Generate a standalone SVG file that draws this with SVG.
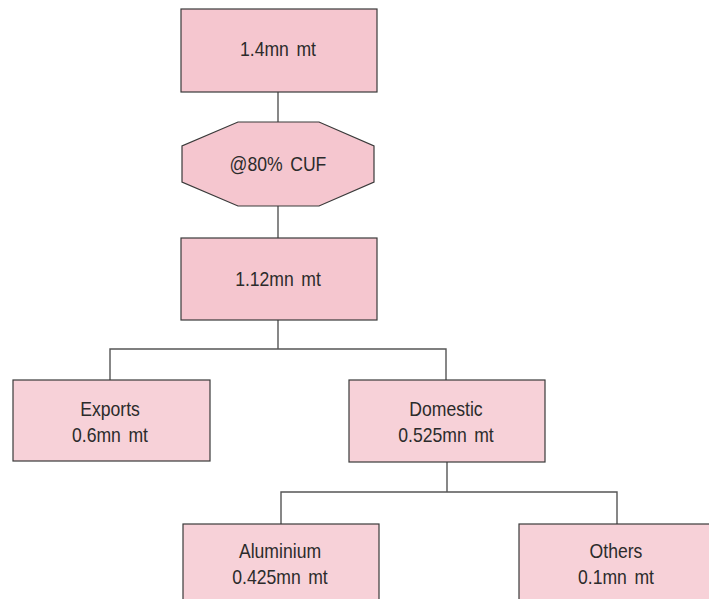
<svg xmlns="http://www.w3.org/2000/svg" width="709" height="599" viewBox="0 0 709 599">
  <style>
    .box { stroke: #3a3a3a; stroke-width: 1.2; }
    .top { fill: #f5c6cf; }
    .low { fill: #f7d1d8; }
    .lbl { font-family: "Liberation Sans", Arial, sans-serif; font-size: 20px; fill: #2b2b2b; text-anchor: middle; word-spacing: 3px; }
    .wire { stroke: #555; stroke-width: 1.4; fill: none; }
  </style>
  <rect width="709" height="599" fill="#ffffff"/>

  <!-- connectors -->
  <g id="connectors">
    <line class="wire" x1="278" y1="92" x2="278" y2="122"/>
    <line class="wire" x1="278" y1="206" x2="278" y2="238"/>
    <line class="wire" x1="278" y1="320" x2="278" y2="349"/>
    <polyline class="wire" points="110,380 110,349 446,349 446,380"/>
    <line class="wire" x1="447" y1="462" x2="447" y2="492"/>
    <polyline class="wire" points="281,524 281,492 617,492 617,524"/>
  </g>

  <!-- labels are set in a narrowed sans: each label group is scaled to 88% width -->
  <g id="capacity">
    <rect class="box top" x="181" y="9" width="196" height="83"/>
    <g transform="translate(278,0) scale(0.88,1)"><text class="lbl" x="0" y="56">1.4mn mt</text></g>
  </g>

  <g id="cuf">
    <polygon class="box top" points="238,122 319,122 374,146 374,182 319,206 238,206 182,182 182,146"/>
    <g transform="translate(278,0) scale(0.88,1)"><text class="lbl" x="0" y="171">@80% CUF</text></g>
  </g>

  <g id="output">
    <rect class="box top" x="181" y="238" width="196" height="82"/>
    <g transform="translate(278,0) scale(0.88,1)"><text class="lbl" x="0" y="286">1.12mn mt</text></g>
  </g>

  <g id="exports">
    <rect class="box low" x="13" y="380" width="197" height="81"/>
    <g transform="translate(110,0) scale(0.88,1)">
      <text class="lbl" x="0" y="416">Exports</text>
      <text class="lbl" x="0" y="442">0.6mn mt</text>
    </g>
  </g>

  <g id="domestic">
    <rect class="box low" x="349" y="380" width="196" height="82"/>
    <g transform="translate(446,0) scale(0.88,1)">
      <text class="lbl" x="0" y="416">Domestic</text>
      <text class="lbl" x="0" y="442">0.525mn mt</text>
    </g>
  </g>

  <g id="aluminium">
    <rect class="box low" x="183" y="524" width="196" height="90"/>
    <g transform="translate(280,0) scale(0.88,1)">
      <text class="lbl" x="0" y="558">Aluminium</text>
      <text class="lbl" x="0" y="584">0.425mn mt</text>
    </g>
  </g>

  <g id="others">
    <rect class="box low" x="519" y="524" width="200" height="90"/>
    <g transform="translate(616,0) scale(0.88,1)">
      <text class="lbl" x="0" y="558">Others</text>
      <text class="lbl" x="0" y="584">0.1mn mt</text>
    </g>
  </g>
</svg>
